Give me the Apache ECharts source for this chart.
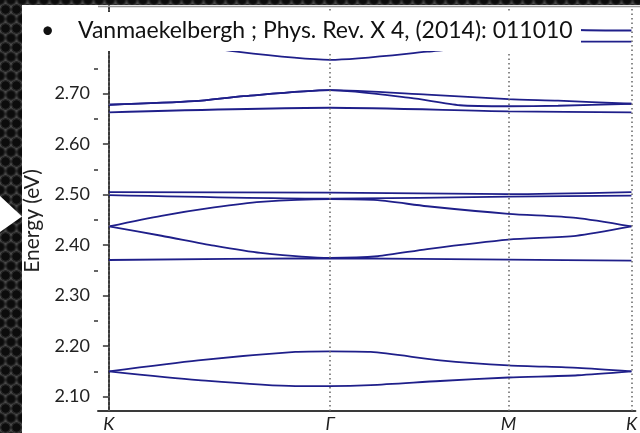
<!DOCTYPE html>
<html>
<head>
<meta charset="utf-8">
<script src="https://cdn.jsdelivr.net/npm/echarts@6/dist/echarts.min.js"></script>
<style>
  html, body { margin: 0; padding: 0; width: 640px; height: 433px; overflow: hidden; }
  #bg {
    position: absolute; left: 0; top: 0; width: 640px; height: 433px;
    background-color: #4a4a4a;
    background-image:
      radial-gradient(circle, #0c0c0c 0 3.8px, #262626 4.4px 5px, transparent 5.6px),
      radial-gradient(circle, #0c0c0c 0 3.8px, #262626 4.4px 5px, transparent 5.6px);
    background-size: 11px 19px, 11px 19px;
    background-position: 0 0, 5.5px 9.5px;
  }
  #paper { position: absolute; left: 22px; top: 5px; width: 618px; height: 428px; background: #fff; }
  #chart { position: absolute; left: 0; top: 0; width: 640px; height: 433px; }
</style>
</head>
<body>
<div id="bg"></div>
<div id="paper"></div>
<div id="chart"></div>
<script>
// k-path positions (K, Γ, M, K) and their labels
var kTicks = [0, 223, 403, 527];
var kNames = ['K', 'Γ', 'M', 'K'];
var yMajor = [2.10, 2.20, 2.30, 2.40, 2.50, 2.60, 2.70, 2.80];
var yMinor = [2.15, 2.25, 2.35, 2.45, 2.55, 2.65, 2.75, 2.85];

// bands, [k, energy in eV]
var bandE = [[0, 2.85], [223, 2.845], [403, 2.832], [473, 2.826], [527, 2.825]];
var bandD = [[0, 2.83], [60, 2.805], [129, 2.783], [223, 2.767], [321, 2.783], [403, 2.800], [473, 2.803], [527, 2.803]];
var bandA = [[0, 2.678], [86, 2.685], [136, 2.695], [223, 2.707], [321, 2.698], [403, 2.689], [453, 2.686], [527, 2.680]];
var bandB = [[0, 2.678], [86, 2.685], [136, 2.695], [223, 2.707], [304, 2.6915], [354, 2.677], [403, 2.675], [453, 2.676], [527, 2.680]];
var bandC = [[0, 2.663], [223, 2.672], [403, 2.665], [527, 2.663]];
var bandF = [[0, 2.505], [223, 2.504], [403, 2.501], [527, 2.505]];
var bandG = [[0, 2.499], [223, 2.492], [403, 2.496], [527, 2.498]];
var bandH = [[0, 2.437], [53, 2.458], [106, 2.4746], [153, 2.4856], [223, 2.491], [271, 2.489], [321, 2.477], [403, 2.462], [471, 2.454], [527, 2.437]];
var bandI = [[0, 2.437], [53, 2.4186], [106, 2.3989], [153, 2.3845], [223, 2.3746], [271, 2.378], [321, 2.3923], [403, 2.411], [471, 2.4185], [527, 2.437]];
var bandJ = [[0, 2.3706], [223, 2.374], [403, 2.3713], [527, 2.3693]];
var bandL = [[0, 2.150], [90, 2.1719], [188, 2.1885], [223, 2.1897], [264, 2.1885], [334, 2.172], [403, 2.162], [473, 2.157], [527, 2.150]];
var bandN = [[0, 2.150], [90, 2.1328], [188, 2.121], [223, 2.121], [264, 2.1229], [334, 2.131], [403, 2.1379], [473, 2.1424], [527, 2.150]];

var bands = [bandE, bandD, bandA, bandB, bandC, bandF, bandG, bandH, bandI, bandJ, bandL, bandN];

var chart = echarts.init(document.getElementById('chart'));

var series = [];
for (var i = 0; i < bands.length; i++) {
    series.push({
        type: 'line',
        data: bands[i],
        showSymbol: false,
        smooth: 0.25,
        lineStyle: { color: '#1f1f8a', width: 1.8 },
        z: 3
    });
}
// dotted lines at the high-symmetry points
series[0].markLine = {
    silent: true,
    symbol: ['none', 'none'],
    label: { show: false },
    lineStyle: { color: '#666', type: [1.5, 3], width: 1.5 },
    data: kTicks.map(function (k) { return { xAxis: k }; })
};

var txt = '#222';
var option = {
    animation: false,
    backgroundColor: 'transparent',
    grid: { left: 98, right: 0, top: 6, bottom: 20.3 },
    xAxis: {
        type: 'value',
        min: -11,
        max: 531,
        splitLine: { show: false },
        axisLine: { lineStyle: { color: '#3a3a3a', width: 2 } },
        axisTick: { show: false },
        axisLabel: {
            customValues: kTicks,
            formatter: function (v) { return kNames[kTicks.indexOf(v)]; },
            color: txt, fontFamily: 'Lato', fontStyle: 'italic', fontSize: 18, margin: 4
        }
    },
    yAxis: [{
        type: 'value',
        min: 2.0716,
        max: 2.8735,
        splitLine: { show: false },
        axisLine: { show: true, lineStyle: { color: '#3a3a3a', width: 2 } },
        axisTick: { show: true, customValues: yMajor, length: 6, lineStyle: { color: '#333', width: 1.5 } },
        axisLabel: {
            customValues: yMajor.slice(0, 7),
            formatter: function (v) { return v.toFixed(2); },
            color: txt, fontFamily: 'Lato', fontSize: 18, margin: 8
        }
    }, {
        type: 'value',
        position: 'left',
        min: 2.0716,
        max: 2.8735,
        splitLine: { show: false },
        axisLine: { show: false },
        axisTick: { show: true, customValues: yMinor, length: 4, lineStyle: { color: '#333', width: 1.5 } },
        axisLabel: { show: false }
    }],
    graphic: [
        { type: 'line', z: 100, shape: { x1: 98, y1: 6.5, x2: 640, y2: 6.5 }, style: { stroke: '#999', lineWidth: 1.5 } },
        { type: 'rect', z: 100, shape: { x: 22, y: 12, width: 559, height: 39 }, style: { fill: '#fff' } },
        { type: 'text', z: 101, x: 41, y: 31, style: { text: '•', font: '23px Lato', fill: '#111', verticalAlign: 'middle' } },
        { type: 'text', z: 101, x: 78, y: 31, style: { text: 'Vanmaekelbergh ; Phys. Rev. X 4, (2014): 011010', font: '23px Lato', fill: '#111', verticalAlign: 'middle' } },
        { type: 'polygon', z: 100, shape: { points: [[0, 196], [22, 216.5], [0, 232]] }, style: { fill: '#fff' } },
        { type: 'text', z: 101, x: 32, y: 221, rotation: Math.PI / 2, style: { text: 'Energy (eV)', font: '21px Lato', fill: txt, align: 'center', verticalAlign: 'middle' } }
    ],
    series: series
};
chart.setOption(option);
</script>
</body>
</html>
